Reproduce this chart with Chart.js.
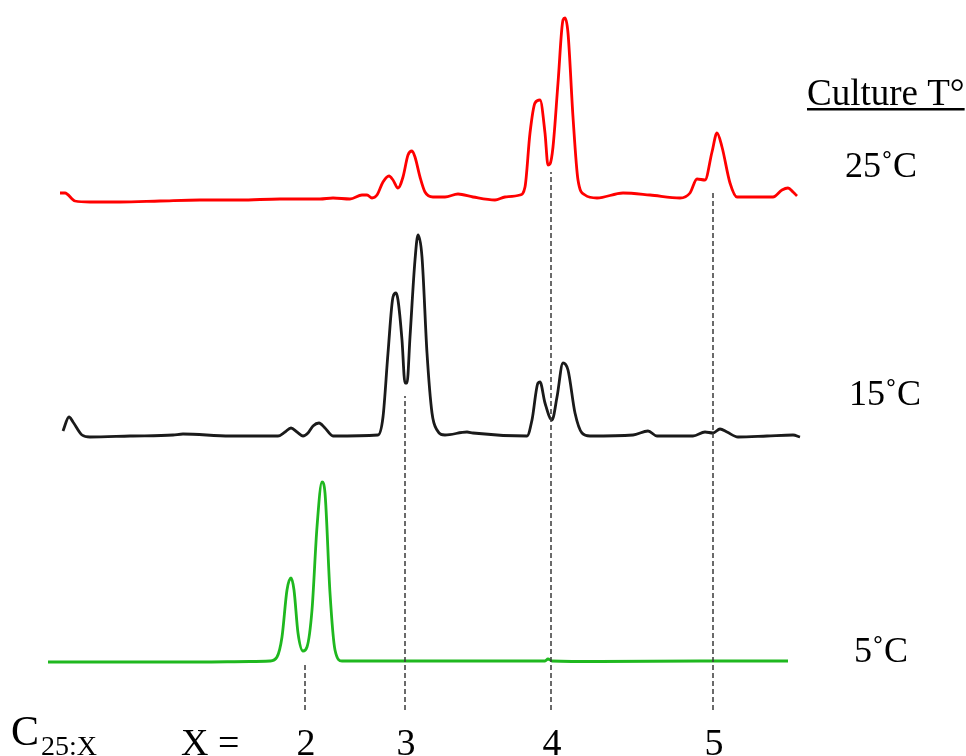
<!DOCTYPE html>
<html>
<head>
<meta charset="utf-8">
<title>C25:X chromatograms by culture temperature</title>
<script src="https://cdn.jsdelivr.net/npm/chart.js@4.4.1/dist/chart.umd.min.js"></script>
<style>
  html, body { margin: 0; padding: 0; background: #ffffff; }
  #wrap { width: 966px; height: 756px; }
</style>
</head>
<body>
<div id="wrap"><canvas id="chromChart" width="966" height="756"></canvas></div>
<script>
// Retention time (min) and detector signal relative to each trace's baseline
const trace25 = [
    [6.0, 8], [6.5, 8], [7.5, 0], [9.0, -1], [12, -1], [16, 0], [20, 1], [24, 1],
    [28, 2], [32, 2], [33.3, 3], [35, 2], [36.2, 6], [36.7, 6], [37.2, 3], [37.7, 6],
    [38.3, 19], [38.9, 25], [39.3, 21], [39.8, 13], [40.3, 24], [40.8, 46], [41.2, 50],
    [41.5, 44], [42.0, 24], [42.5, 9], [43.3, 4], [44.5, 4], [45.8, 7], [47.3, 4],
    [49.5, 1], [50.5, 4], [52.0, 6], [52.5, 14], [53.0, 68], [53.5, 98], [54.0, 101],
    [54.5, 68], [54.8, 36], [55.0, 37], [55.3, 54], [55.8, 118], [56.3, 181], [56.5, 183],
    [56.8, 168], [57.3, 84], [57.8, 21], [58.5, 6], [59.7, 3], [62.3, 8], [65.0, 6],
    [68.0, 3], [69.0, 8], [69.7, 22], [70.5, 21], [71.2, 49], [71.7, 68], [72.2, 54],
    [73.0, 18], [73.7, 4], [75.3, 4], [77.3, 4], [78.2, 11], [78.8, 13], [79.3, 9], [79.7, 5]
];

const trace15 = [
    [6.3, 5], [6.9, 19], [7.3, 14], [8.2, 1], [9.0, -1], [13, 0], [17.3, 1], [18.3, 2],
    [23, 0], [27.8, 0], [28.5, 4], [29.1, 8], [29.7, 4], [30.3, 0], [30.8, 3], [31.3, 10],
    [31.9, 13], [32.5, 8], [33.3, 0], [37.8, 1], [38.3, 19], [38.8, 83], [39.3, 139],
    [39.6, 143], [39.8, 136], [40.2, 96], [40.5, 53], [40.7, 53], [41.0, 99], [41.5, 176],
    [41.8, 201], [42.2, 179], [42.7, 83], [43.2, 23], [43.7, 6], [44.5, 1], [46.7, 4],
    [47.3, 3], [52.7, 0], [53.2, 16], [53.8, 53], [54.0, 54], [54.5, 33], [55.2, 16],
    [55.7, 39], [56.3, 73], [56.8, 66], [57.5, 23], [58.2, 3], [59.0, 0], [63.3, 1],
    [64.8, 5], [65.7, 0], [69.3, 0], [70.5, 4], [71.3, 3], [72.0, 7], [72.7, 4],
    [73.8, -1], [76.7, 0], [79.3, 1], [80.0, -1]
];

const trace5 = [
    [4.8, 0], [10, 0], [15, 0], [20, 0], [25, 0.5], [27.0, 1], [27.7, 5], [28.2, 25],
    [28.7, 72], [29.1, 84], [29.4, 72], [29.8, 29], [30.3, 11], [30.7, 15], [31.2, 52],
    [31.7, 135], [32.2, 180], [32.5, 169], [33.0, 69], [33.5, 12], [34.2, 1], [40.7, 1],
    [43.2, 1], [52.0, 1], [54.5, 1], [54.8, 3], [55.2, 1], [60, 0.5], [70, 1], [78.8, 1]
];

// Vertical offsets used to stack the traces
const offset25 = 555;
const offset15 = 320;
const offset5 = 94;

// Double-bond markers (X in C25:X)
const markerTimes = [30.5, 40.5, 55.1, 71.3];
const markerLabels = ['2', '3', '4', '5'];
const markerTops = [92, 360, 584, 566];
const markerBottom = 46;

const traceLabels = ['25˚C', '15˚C', '5˚C'];

function shifted(trace, offset) {
    return trace.map(p => ({ x: p[0], y: p[1] + offset }));
}

const serif = "'Liberation Serif', 'Times New Roman', serif";

const textPlugin = {
    id: 'chromText',
    afterDraw(chart) {
        const ctx = chart.ctx;
        const xs = chart.scales.x;
        ctx.save();
        ctx.fillStyle = '#000000';
        ctx.textBaseline = 'alphabetic';

        // Header
        ctx.font = '37px ' + serif;
        ctx.textAlign = 'left';
        ctx.fillText('Culture T°', 807, 105);
        const w = ctx.measureText('Culture T°').width;
        ctx.fillRect(807, 108, w, 2.5);

        // Temperature labels
        ctx.font = '36px ' + serif;
        ctx.fillText(traceLabels[0], 845, 177);
        ctx.fillText(traceLabels[1], 849, 405);
        ctx.fillText(traceLabels[2], 854, 662);

        // C25:X
        ctx.font = '42px ' + serif;
        ctx.fillText('C', 11, 745);
        ctx.font = '28px ' + serif;
        ctx.fillText('25:X', 41, 755);
        ctx.font = '38px ' + serif;
        ctx.fillText('X =', 181, 755);

        // Marker labels
        ctx.textAlign = 'center';
        markerTimes.forEach((t, i) => {
            ctx.fillText(markerLabels[i], xs.getPixelForValue(t) + 1, 755);
        });
        ctx.restore();
    }
};

const markerSets = markerTimes.map((t, i) => ({
    data: [{ x: t, y: markerBottom }, { x: t, y: markerTops[i] }],
    borderColor: '#3a3a3a',
    borderWidth: 1.5,
    borderDash: [5, 3],
    pointRadius: 0,
    tension: 0
}));

function traceSet(trace, offset, color) {
    return {
        data: shifted(trace, offset),
        borderColor: color,
        borderWidth: 2.8,
        pointRadius: 0,
        cubicInterpolationMode: 'monotone'
    };
}

new Chart(document.getElementById('chromChart').getContext('2d'), {
    type: 'line',
    data: {
        datasets: markerSets.concat([
            traceSet(trace25, offset25, '#ff0000'),
            traceSet(trace15, offset15, '#1a1a1a'),
            traceSet(trace5, offset5, '#1fb81f')
        ])
    },
    options: {
        responsive: false,
        animation: false,
        clip: false,
        layout: { padding: 0 },
        plugins: {
            legend: { display: false },
            tooltip: { enabled: false }
        },
        scales: {
            x: { type: 'linear', min: 0, max: 96.6, display: false },
            y: { type: 'linear', min: 0, max: 756, display: false }
        }
    },
    plugins: [textPlugin]
});
</script>
</body>
</html>
